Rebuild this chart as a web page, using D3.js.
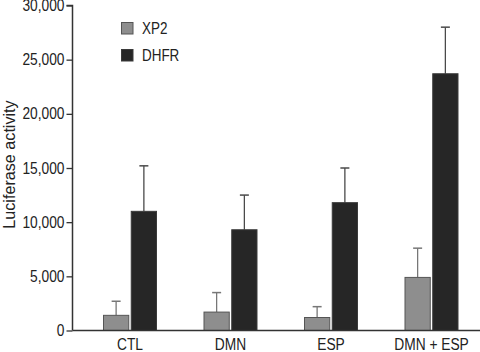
<!DOCTYPE html>
<html>
  <head>
    <script src="https://cdnjs.cloudflare.com/ajax/libs/d3/7.8.5/d3.min.js"></script>
    <style>
      body { margin: 0; background: #fff; }
      text { font-family: "Liberation Sans", Arial, sans-serif; fill: #222; }
    </style>
  </head>
  <body>
    <svg width="480" height="352"></svg>
    <script>
      const categories = ["CTL", "DMN", "ESP", "DMN + ESP"];
      const series = ["XP2", "DHFR"];
      const xp2 = [1400, 1700, 1200, 4900];
      const xp2Err = [1300, 1800, 1000, 2700];
      const dhfr = [11000, 9300, 11800, 23700];
      const dhfrErr = [4200, 3200, 3200, 4300];
      const yTicks = [0, 5000, 10000, 15000, 20000, 25000, 30000];
      const colors = { XP2: "#8e8e8e", DHFR: "#262626" };
      const strokes = { XP2: "#555", DHFR: "#3a3a3a" };
      const errColors = { XP2: "#777", DHFR: "#4a4a4a" };

      const rows = [];
      categories.forEach((c, i) => {
        rows.push({ cat: c, s: "XP2", v: xp2[i], e: xp2Err[i] });
        rows.push({ cat: c, s: "DHFR", v: dhfr[i], e: dhfrErr[i] });
      });

      // narrow the glyphs a bit, the original uses a condensed face
      function squeeze(sel, k) {
        sel.each(function () {
          const w = this.getComputedTextLength();
          d3.select(this).attr("textLength", w * k).attr("lengthAdjust", "spacingAndGlyphs");
        });
      }

      const svg = d3.select("svg");
      const axisX = 72.5;

      const y = d3.scaleLinear().domain([0, 30000]).range([330.5, 5.5]);
      const x0 = d3.scaleBand().domain(categories).range([79.75, 481.75]);
      const groupW = 53;
      const x1 = d3.scaleBand().domain(series).range([0, groupW]).paddingInner(0.09);
      const bx = d => x0(d.cat) + (x0.bandwidth() - groupW) / 2 + x1(d.s);

      // error bars (upper only)
      const eg = svg.append("g");
      eg.selectAll("line.v").data(rows).join("line")
        .attr("x1", d => bx(d) + x1.bandwidth() / 2)
        .attr("x2", d => bx(d) + x1.bandwidth() / 2)
        .attr("y1", d => y(d.v))
        .attr("y2", d => y(d.v + d.e))
        .attr("stroke", d => errColors[d.s])
        .attr("stroke-width", 1.3);
      eg.selectAll("line.c").data(rows).join("line")
        .attr("x1", d => bx(d) + x1.bandwidth() / 2 - 4.5)
        .attr("x2", d => bx(d) + x1.bandwidth() / 2 + 4.5)
        .attr("y1", d => y(d.v + d.e))
        .attr("y2", d => y(d.v + d.e))
        .attr("stroke", d => errColors[d.s])
        .attr("stroke-width", 1.5);

      svg.append("g").selectAll("rect").data(rows).join("rect")
        .attr("x", d => bx(d))
        .attr("y", d => y(d.v))
        .attr("width", x1.bandwidth())
        .attr("height", d => y(0) - y(d.v))
        .attr("fill", d => colors[d.s])
        .attr("stroke", d => strokes[d.s])
        .attr("stroke-width", 1);

      // y axis
      const ya = svg.append("g")
        .attr("transform", `translate(${axisX},0)`)
        .call(d3.axisLeft(y).tickValues(yTicks).tickSize(6).tickPadding(2)
          .tickFormat(d3.format(",")));
      ya.select(".domain").attr("stroke", "#333").attr("stroke-width", 1.5)
        .attr("d", `M-6,${y(30000)}H0V${y(0)}`);
      ya.selectAll(".tick line").attr("stroke", "#333").attr("stroke-width", 1.3);
      ya.selectAll(".tick text").attr("font-size", 16).attr("fill", "#222").call(squeeze, 0.86);

      // x axis
      const xa = svg.append("g")
        .attr("transform", `translate(0,${y(0)})`)
        .call(d3.axisBottom(x0).tickSize(0).tickPadding(8));
      xa.select(".domain").attr("stroke", "#333").attr("stroke-width", 1.5)
        .attr("d", `M${axisX},0H480`);
      xa.selectAll(".tick text").attr("font-size", 16).attr("fill", "#222").call(squeeze, 0.86);

      // y label
      svg.append("text")
        .attr("transform", "translate(14.5,164.5) rotate(-90)")
        .attr("text-anchor", "middle")
        .attr("font-size", 17)
        .text("Luciferase activity")
        .call(squeeze, 0.95);

      // legend
      const lg = svg.append("g").selectAll("g").data(series).join("g")
        .attr("transform", (d, i) => `translate(121.5,${22.5 + i * 27})`);
      lg.append("rect").attr("width", 11.5).attr("height", 11.5)
        .attr("fill", d => colors[d]).attr("stroke", d => strokes[d]).attr("stroke-width", 1);
      lg.append("text").attr("x", 20.5).attr("y", 11).attr("font-size", 16).text(d => d)
        .call(squeeze, 0.84);
    </script>
  </body>
</html>
